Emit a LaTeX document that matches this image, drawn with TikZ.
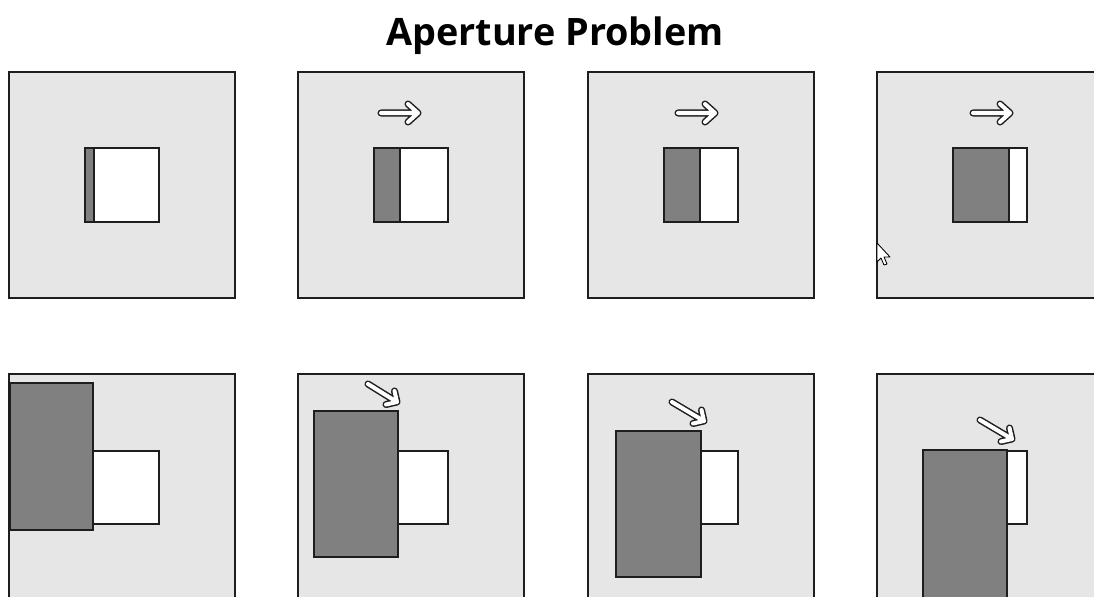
\documentclass[tikz,border=0pt]{standalone}
\usepackage{fontspec}
\newfontfamily\titlefont{Open Sans}
\definecolor{panelgray}{RGB}{230,230,230}
\definecolor{bargray}{RGB}{128,128,128}
\definecolor{edge}{RGB}{30,30,30}
\begin{document}
\begin{tikzpicture}
    [x=0.02cm,y=-0.02cm,
     panel/.style={fill=panelgray,draw=edge,line width=1.4pt},
     hole/.style={fill=white,draw=edge,line width=1.4pt},
     bar/.style={fill=bargray,draw=edge,line width=1.4pt},
     motion/.style={draw=edge,double=white,double distance=2.3pt,line width=0.85pt,line cap=round,line join=round},
     pointer/.style={fill=white,draw=black,line width=0.5pt,line join=round}]
    \useasboundingbox (0,0) rectangle (1094,597);
    \clip (0,0) rectangle (1094,597);
    %title
    \node[anchor=base,font=\titlefont\bfseries\fontsize{21.5}{25}\selectfont] (title) at (555,46) {Aperture Problem};
    %top row: panels
    \draw[panel] (9,72) rectangle (235,298);
    \draw[panel] (298,72) rectangle (524,298);
    \draw[panel] (588,72) rectangle (814,298);
    \draw[panel] (877,72) rectangle (1103,298);
    %top row: apertures with the bar seen through them
    \draw[hole] (85,148) rectangle (159,222);
    \draw[bar] (85,148) rectangle (94,222);
    \draw[hole] (374,148) rectangle (448,222);
    \draw[bar] (374,148) rectangle (400,222);
    \draw[hole] (664,148) rectangle (738,222);
    \draw[bar] (664,148) rectangle (700,222);
    \draw[hole] (953,148) rectangle (1027,222);
    \draw[bar] (953,148) rectangle (1009,222);
    %top row: motion arrows
    \draw[motion] (381,113)--(418,113) (408,104)--(418,113)--(408,122);
    \draw[motion] (678,113)--(715,113) (705,104)--(715,113)--(705,122);
    \draw[motion] (973,113)--(1010,113) (1000,104)--(1010,113)--(1000,122);
    %mouse pointer
    \draw[pointer] (877,243)--(877,262)--(881,258)--(884,265)--(887,264)--(884,257)--(890,257)--cycle;
    %bottom row: panels
    \draw[panel] (9,374) rectangle (235,600);
    \draw[panel] (298,374) rectangle (524,600);
    \draw[panel] (588,374) rectangle (814,600);
    \draw[panel] (877,374) rectangle (1103,600);
    %bottom row: apertures
    \draw[hole] (85,451) rectangle (159,524);
    \draw[hole] (374,451) rectangle (448,524);
    \draw[hole] (664,451) rectangle (738,524);
    \draw[hole] (953,451) rectangle (1027,524);
    %bottom row: bars
    \draw[bar] (10,383) rectangle (93,530);
    \draw[bar] (314,411) rectangle (398,557);
    \draw[bar] (616,431) rectangle (701,577);
    \draw[bar] (923,450) rectangle (1007,600);
    %bottom row: motion arrows
    \draw[motion] (368,384)--(397,402) (394.5,391)--(397,402)--(386,404.5);
    \draw[motion] (672,402)--(704,421) (701.5,410)--(704,421)--(693,423.5);
    \draw[motion] (980,420)--(1012,439) (1009.5,428)--(1012,439)--(1001,441.5);
\end{tikzpicture}
\end{document}
